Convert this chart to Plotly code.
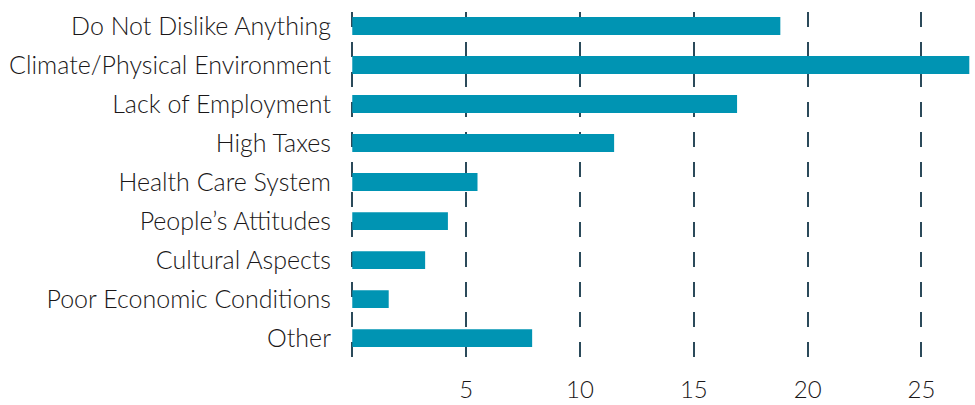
import plotly.graph_objects as go

categories = [
    "Do Not Dislike Anything",
    "Climate/Physical Environment",
    "Lack of Employment",
    "High Taxes",
    "Health Care System",
    "People’s Attitudes",
    "Cultural Aspects",
    "Poor Economic Conditions",
    "Other",
]
values = [18.8, 27.1, 16.9, 11.5, 5.5, 4.2, 3.2, 1.6, 7.9]
tick_vals = [0, 5, 10, 15, 20, 25]
tick_text = ["", "5", "10", "15", "20", "25"]

fig = go.Figure(
    go.Bar(
        y=list(range(len(categories))),
        x=values,
        orientation="h",
        marker=dict(color="#0094B3", line=dict(width=0)),
        width=0.46,
    )
)

fig.update_layout(
    width=975,
    height=405,
    margin=dict(l=350, r=0, t=12, b=38),
    plot_bgcolor="white",
    paper_bgcolor="white",
    font=dict(family="Lato", size=25, color="#1A1718", weight=300),
    showlegend=False,
    xaxis=dict(
        range=[-0.1, 27.35],
        tickvals=tick_vals,
        ticktext=tick_text,
        showgrid=True,
        gridcolor="#2B4A5A",
        gridwidth=2,
        griddash="15px,15px",
        zeroline=False,
        showline=False,
        ticks="",
        ticklabelstandoff=6,
        tickfont=dict(size=24, weight=300),
    ),
    yaxis=dict(
        range=[8.74, -0.36],
        tickvals=list(range(len(categories))),
        ticktext=categories,
        showgrid=False,
        zeroline=False,
        showline=False,
        ticks="",
        ticklabelstandoff=18,
        tickfont=dict(size=25, weight=300),
    ),
)

fig.write_html("out.html")
